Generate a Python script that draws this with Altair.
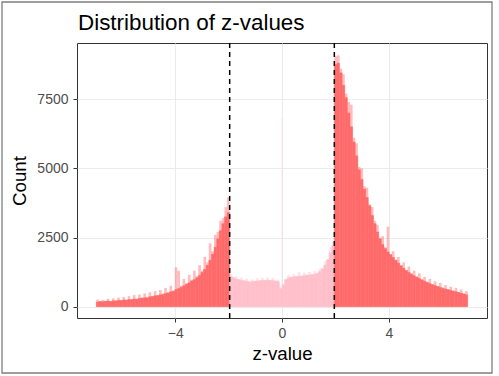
import altair as alt
import pandas as pd

TITLE = "Distribution of z-values"
X_TITLE = "z-value"
Y_TITLE = "Count"
BIN_W = 0.098
CUT = 1.96
x_ticks = [-4, 0, 4]
y_ticks = [0, 2500, 5000, 7500]
cut_lines = [-1.96, 1.96]

# counts per bin (solid body) and the lighter spiky tops
left_counts = [170, 190, 180, 195, 205, 190, 215, 210, 230, 225, 245, 240, 260, 255, 280, 270,
               300, 310, 325, 320, 360, 370, 395, 400, 430, 445, 480, 500, 540, 560, 620, 660,
               700, 760, 810, 860, 930, 980, 1050, 1130, 1240, 1350, 1500, 1680, 1900, 2150,
               2450, 2750, 3000, 3250, 3400]
left_peaks = [260, 200, 240, 210, 290, 200, 300, 220, 330, 240, 350, 250, 380, 270, 420, 290,
              440, 330, 480, 340, 520, 390, 560, 420, 600, 470, 680, 520, 760, 580, 1420, 1300,
              760, 1000, 850, 1150, 980, 1300, 1100, 1500, 1300, 1800, 1600, 2290, 2000, 2600,
              2700, 3100, 3200, 3600, 3950]
mid_counts = [1080, 1050, 1000, 980, 960, 940, 920, 900, 900, 920, 930, 940, 950, 950, 960, 950,
              940, 930, 900, 650, 780, 980, 1040, 1060, 1080, 1090, 1100, 1110, 1120, 1140, 1150,
              1160, 1170, 1210, 1270, 1370, 1500, 1700, 1950, 2200]
mid_peaks = [1180, 1060, 1100, 990, 1050, 950, 1010, 910, 990, 930, 1030, 950, 1050, 960, 1060,
             960, 1040, 940, 980, 700, 850, 1000, 1140, 1070, 1180, 1100, 1250, 1120, 1230, 1150,
             1260, 1170, 1290, 1220, 1380, 1380, 1650, 1710, 2150, 2350]
right_counts = [8750, 8800, 8450, 8000, 7550, 7000, 6500, 5950, 5450, 4950, 4600, 4250, 3950,
                3650, 3300, 3000, 2700, 2450, 2250, 2100, 1980, 1880, 1780, 1680, 1580, 1480,
                1390, 1310, 1240, 1180, 1120, 1070, 1020, 970, 925, 880, 840, 800, 765, 730, 700,
                670, 640, 615, 590, 565, 540, 515, 490, 460, 430]
right_peaks = [9050, 9080, 8600, 8400, 7700, 7400, 7300, 6100, 5900, 5050, 5000, 4350, 4300,
               3700, 3600, 3100, 2950, 2500, 2550, 2150, 2890, 1900, 2000, 1700, 1800, 1500,
               1600, 1330, 1450, 1200, 1300, 1090, 1200, 990, 1080, 900, 1000, 820, 920, 750,
               860, 690, 780, 630, 720, 580, 680, 530, 620, 480, 560]
zero_spike_z = [0.0]
zero_spike_count = [6800]

counts = left_counts + mid_counts + right_counts
peaks = left_peaks + mid_peaks + right_peaks
start = -CUT - len(left_counts) * BIN_W
z0 = [start + i * BIN_W for i in range(len(counts))]
z1 = [z + BIN_W for z in z0]
region = (["outside"] * len(left_counts) + ["inside"] * len(mid_counts)
          + ["outside"] * len(right_counts))
df = pd.DataFrame({"z0": z0, "z1": z1, "count": counts, "peak": peaks, "region": region})
spike_df = pd.DataFrame({"z": zero_spike_z, "count": zero_spike_count})
cut_df = pd.DataFrame({"cut": cut_lines})

RED = "#FF6B6B"
PINK = "#FFC0CB"
xs = alt.Scale(domain=[-7.68, 7.68], nice=False, zero=False)
ys = alt.Scale(domain=[-408, 9527], nice=False, zero=False)
cs = alt.Scale(domain=["outside", "inside"], range=[RED, PINK])
x_axis = alt.Axis(values=x_ticks, title=X_TITLE, titleBaseline="alphabetic", titleY=41,
                  labelPadding=4, format="d")
y_axis = alt.Axis(values=y_ticks, title=Y_TITLE, titleBaseline="alphabetic", titleX=-52,
                  labelPadding=5, format="d")

base = alt.Chart(df)
light = base.mark_rect(opacity=0.45).encode(
    x=alt.X("z0:Q", scale=xs, axis=x_axis),
    x2="z1",
    y=alt.Y("peak:Q", scale=ys, axis=y_axis),
    y2=alt.datum(0),
    color=alt.Color("region:N", scale=cs, legend=None),
)
solid = base.mark_rect(strokeWidth=0.4).encode(
    x=alt.X("z0:Q", scale=xs, axis=x_axis),
    x2="z1",
    y=alt.Y("count:Q", scale=ys, axis=y_axis),
    y2=alt.datum(0),
    color=alt.Color("region:N", scale=cs, legend=None),
    stroke=alt.Color("region:N", scale=cs, legend=None),
)
spike = alt.Chart(spike_df).mark_rule(color=PINK, opacity=0.4, strokeWidth=0.8).encode(
    x=alt.X("z:Q", scale=xs, axis=x_axis),
    y=alt.Y("count:Q", scale=ys, axis=y_axis),
    y2=alt.datum(0),
)
cuts = alt.Chart(cut_df).mark_rule(color="black", strokeWidth=1.5, strokeDash=[5, 4]).encode(
    x=alt.X("cut:Q", scale=xs, axis=x_axis),
)
title = alt.Chart(pd.DataFrame({"t": [TITLE]})).mark_text(
    align="left", baseline="alphabetic", fontSize=22.4, font="Liberation Sans", color="black"
).encode(x=alt.value(1), y=alt.value(-13.5), text="t:N")
border = alt.Chart(pd.DataFrame({"a": [0]})).mark_rect(
    filled=False, stroke="#7F7F7F", strokeWidth=1.3
).encode(x=alt.value(-75), x2=alt.value(415), y=alt.value(-41), y2=alt.value(330))

chart = alt.layer(light, solid, spike, cuts, title, border).properties(
    width=410, height=275,
    autosize=alt.AutoSizeParams(type="none"),
    padding={"left": 77, "top": 43, "right": 12, "bottom": 58},
    background="white",
).configure_view(
    stroke="#333333", strokeWidth=1
).configure_axis(
    grid=True, gridColor="#EBEBEB", gridWidth=1.1, domain=False,
    tickColor="#333333", tickSize=4, tickWidth=1,
    labelFont="Liberation Sans", labelFontSize=14, labelColor="#4D4D4D",
    titleFont="Liberation Sans", titleFontSize=18.7, titleFontWeight="normal", titleColor="black",
)

chart.save("out.html", embed_options={"renderer": "svg", "actions": False})
